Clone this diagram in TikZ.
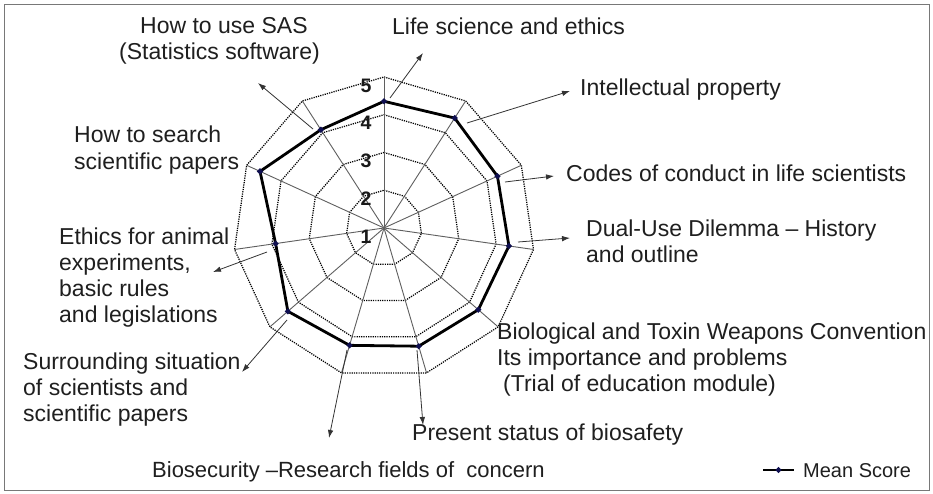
\documentclass[tikz,border=0pt]{standalone}
\usepackage{fontspec}
\setmainfont{Liberation Sans}
\usetikzlibrary{arrows.meta,shapes.geometric,calc}
\definecolor{axisgray}{RGB}{95,95,95}
\definecolor{markblue}{RGB}{15,15,80}
\definecolor{framegray}{RGB}{120,120,120}
\begin{document}
\begin{tikzpicture}[x=1pt,y=-1pt,
  lbl/.style={anchor=base west, inner sep=0pt, font=\fontsize{23}{26}\selectfont, text=black!88},
  num/.style={inner sep=0pt, font=\fontsize{19.5}{21}\selectfont\bfseries, text=black!90},
  ring/.style={draw=black, line width=1.25pt, dash pattern=on 1.2pt off 1.1pt},
  spoke/.style={draw=axisgray, line width=0.9pt},
  meanline/.style={draw=black, line width=2.8pt, line join=round},
  mk/.style={diamond, fill=markblue, inner sep=0pt, minimum size=6.5pt},
  callout/.style={draw=black!80, line width=0.8pt, -{Latex[length=8pt,width=5.5pt]}},
  frame/.style={draw=framegray, line width=1pt}]
\useasboundingbox (0,0) rectangle (933,494);
\fill[white] (0,0) rectangle (933,494);
\draw[frame] (4,5) rectangle (929,490);

\begin{scope}[shift={(384,228)}]
  \coordinate (C) at (0,0);
  \foreach \k/\r in {0/126.7,1/130.7,2/124.7,3/126.2,4/124.8,5/123.2,6/122.3,7/127.2,8/109.5,9/136.3,10/116.8} {
    \coordinate (o\k) at ({-90+\k*360/11}:151);
    \coordinate (p\k) at ({-90+\k*360/11}:\r);
  }
  \foreach \v in {1,2,3,4} {
    \draw[ring] ({-90}:{\v*37.75}) \foreach \k in {1,...,10} { -- ({-90+\k*360/11}:{\v*37.75}) } -- cycle;
  }
  \foreach \k in {0,...,10} { \draw[spoke] (C) -- (o\k); }
  \draw[meanline] (p0) -- (p1) -- (p2) -- (p3) -- (p4) -- (p5) -- (p6) -- (p7) -- (p8) -- (p9) -- (p10) -- cycle;
  \foreach \k in {0,...,10} { \node[mk] (m\k) at (p\k) {}; }
\end{scope}

% scale numbers
\node[num] (n1) at (366,236.5) {1};
\node[num] (n2) at (366,198.75) {2};
\node[num] (n3) at (366,161) {3};
\node[num] (n4) at (366,123.25) {4};
\node[num] (n5) at (366,85.5) {5};

% callouts
\coordinate (sSAS) at (313,129);   \coordinate (tSAS) at (258,83);
\coordinate (sLife) at (390,98);   \coordinate (tLife) at (423,53);
\coordinate (sIP) at (467,123);    \coordinate (tIP) at (570,91);
\coordinate (sCode) at (505,182);  \coordinate (tCode) at (554,176);
\coordinate (sDual) at (518,242);  \coordinate (tDual) at (570,238);
\coordinate (sPres) at (417,350);  \coordinate (tPres) at (423,425);
\coordinate (sBio) at (347,350);   \coordinate (tBio) at (329,438);
\coordinate (sSurr) at (287,320);  \coordinate (tSurr) at (242,372);
\coordinate (sEth) at (267,252);   \coordinate (tEth) at (213,272);
\foreach \a in {SAS,Life,IP,Code,Dual,Pres,Bio,Surr,Eth} { \draw[callout] (s\a) -- (t\a); }

% labels
\node[lbl] (sas1) at (140,34) {How to use SAS};
\node[lbl] (sas2) at (119,60) {(Statistics software)};
\node[lbl] (life) at (392,34.5) {Life science and ethics};
\node[lbl] (ip) at (580,95.5) {Intellectual property};
\node[lbl] (code) at (566,181.5) {Codes of conduct in life scientists};
\node[lbl] (dual1) at (586,236.5) {Dual-Use Dilemma – History};
\node[lbl] (dual2) at (586,262.5) {and outline};
\node[lbl] (btw1) at (497,339.5) {Biological and Toxin Weapons Convention};
\node[lbl] (btw2) at (497,365.5) {Its importance and problems};
\node[lbl] (btw3) at (503,391.5) {(Trial of education module)};
\node[lbl] (pres) at (412,440.5) {Present status of biosafety};
\node[lbl,font=\fontsize{22}{26}\selectfont] (bio) at (152,477.5) {Biosecurity –Research fields of\ \ concern};
\node[lbl] (sur1) at (23,369.5) {Surrounding situation};
\node[lbl] (sur2) at (23,395.5) {of scientists and};
\node[lbl] (sur3) at (23,421.5) {scientific papers};
\node[lbl] (eth1) at (59,244.5) {Ethics for animal};
\node[lbl] (eth2) at (59,270.5) {experiments,};
\node[lbl] (eth3) at (59,296.5) {basic rules};
\node[lbl] (eth4) at (59,322.5) {and legislations};
\node[lbl] (srch1) at (74,142.5) {How to search};
\node[lbl] (srch2) at (74,169.5) {scientific papers};

% legend
\coordinate (lgA) at (763,470); \coordinate (lgB) at (794,470);
\draw[meanline] (lgA) -- (lgB);
\node[mk] (lgm) at (778.5,470) {};
\node[lbl,font=\fontsize{20}{24}\selectfont] (lgt) at (803,477) {Mean Score};
\end{tikzpicture}
\end{document}
